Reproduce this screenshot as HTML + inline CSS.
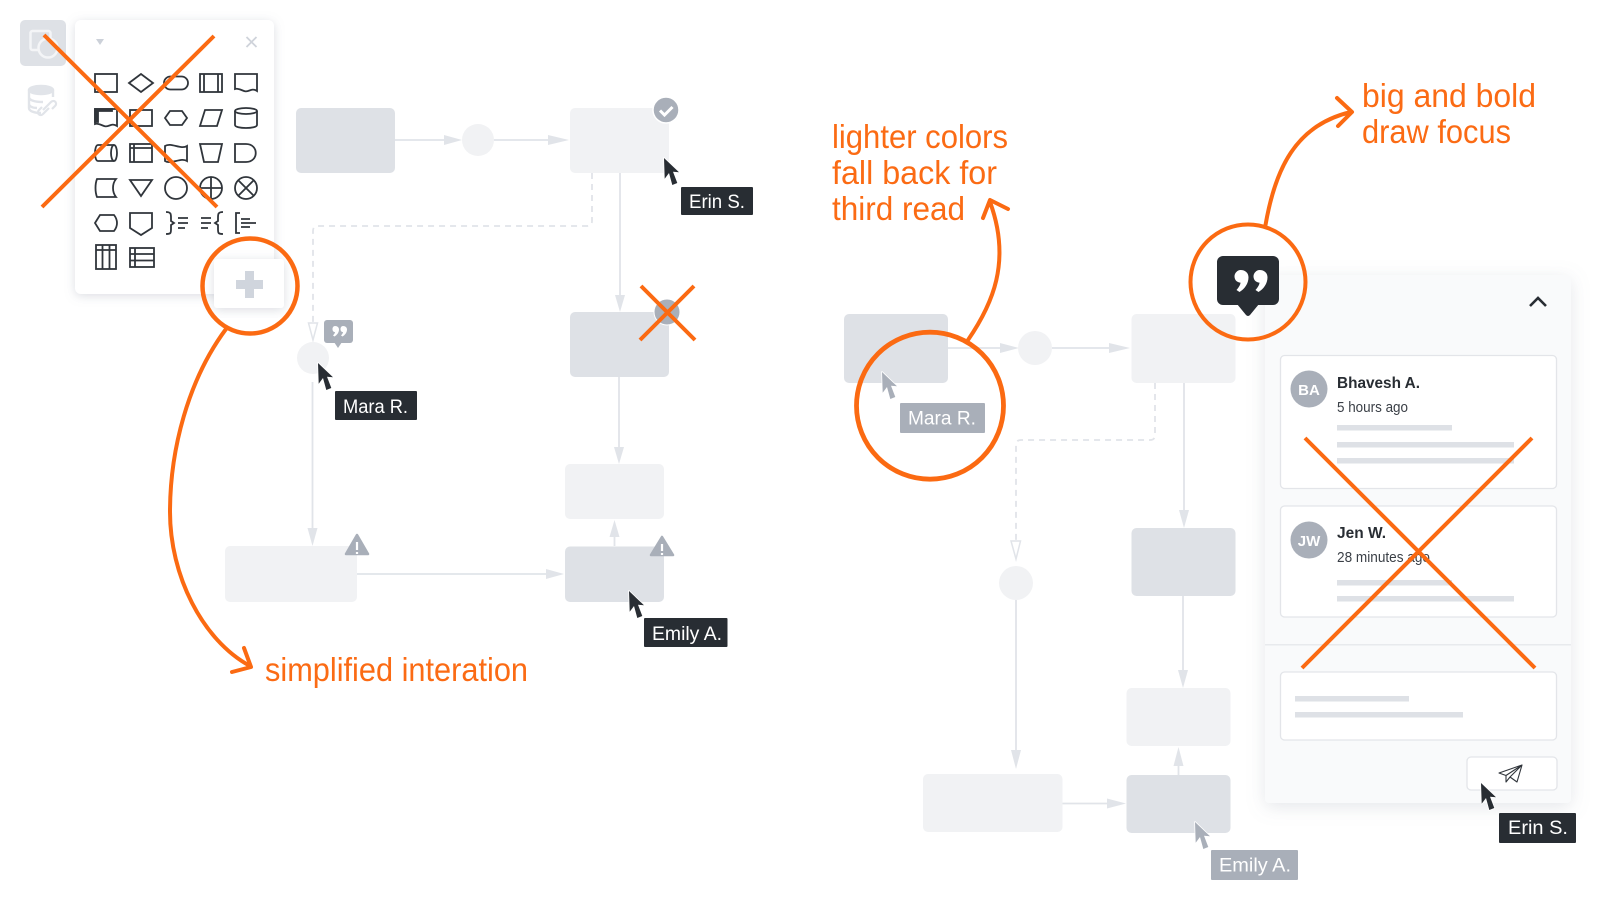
<!DOCTYPE html>
<html><head><meta charset="utf-8"><style>
html,body{margin:0;padding:0;background:#fff;width:1600px;height:900px;overflow:hidden}
svg{display:block}
.lab{font-family:"Liberation Sans",sans-serif;font-size:19px;fill:#fff}
.or{font-family:"Liberation Sans",sans-serif;font-size:33px;fill:#fb6b14}
.o{fill:none;stroke:#fb6a12;stroke-width:4;stroke-linecap:round;stroke-linejoin:round}
.x{fill:none;stroke:#fb6a12;stroke-width:4}
.c{fill:none;stroke:#e1e4e9;stroke-width:1.8}
.h{fill:#e1e4e9}
.s{fill:none;stroke:#30353b;stroke-width:1.8}
.n{font-family:"Liberation Sans",sans-serif;font-size:15.5px;font-weight:bold;fill:#282d33}
.t{font-family:"Liberation Sans",sans-serif;font-size:14.5px;fill:#3a3f46}
.av{font-family:"Liberation Sans",sans-serif;font-size:15px;font-weight:bold;fill:#fff;text-anchor:middle}
.cur{stroke:#fff;stroke-width:1.6;paint-order:stroke;stroke-linejoin:round}
</style></head><body>
<svg width="1600" height="900" viewBox="0 0 1600 900" xmlns="http://www.w3.org/2000/svg">
<defs>
<filter id="sh" x="-20%" y="-20%" width="140%" height="140%"><feDropShadow dx="0" dy="2" stdDeviation="5" flood-color="#8a93a3" flood-opacity=".3"/></filter>
<filter id="sh2" x="-20%" y="-20%" width="140%" height="140%"><feDropShadow dx="0" dy="4" stdDeviation="9" flood-color="#8a93a3" flood-opacity=".22"/></filter>
</defs>

<!-- top-left icons -->
<rect x="20" y="20" width="46" height="46" rx="5" fill="#dee1e6"/>
<rect x="30.500" y="31" width="20" height="19" rx="2" fill="none" stroke="#f4f5f7" stroke-width="2.500"/>
<circle cx="48" cy="48" r="9.500" fill="#dee1e6" stroke="#f4f5f7" stroke-width="2.500"/>
<g fill="none" stroke="#e1e4e9" stroke-width="2.400">
<ellipse cx="41" cy="90" rx="12" ry="4" fill="#e1e4e9"/>
<path d="M29 90v18c0 3 5 5 12 5M53 90v7M29 97c0 3 5 5 14 5M29 104c0 2 3 4 8 4"/>
<path d="M43 110l8-8c3-3 7 1 4 4l-3 3M49 108l-6 6c-3 3-7-1-4-4l3-3" stroke-width="2.200"/>
</g>

<!-- left diagram connectors -->
<path class="c" d="M395 140H446M494 140H550"/>
<path class="h" d="M444 135L462 140L444 145ZM548 135L569 140L548 145Z"/>
<path class="c" stroke-dasharray="6 5" d="M592 173V221Q592 226 587 226H318Q313 226 313 231V323"/>
<path d="M308.500 323H317.500L313 340Z" fill="#fff" stroke="#e1e4e9" stroke-width="1.500"/>
<path class="c" d="M620 173V296"/><path class="h" d="M615 295H625L620 312Z"/>
<path class="c" d="M619 377V448"/><path class="h" d="M614 447H624L619 464Z"/>
<path class="c" d="M312.500 382V530"/><path class="h" d="M307.500 528H317.500L312.500 546Z"/>
<path class="c" d="M357 574H548"/><path class="h" d="M546 569L564 574L546 579Z"/>
<path class="c" d="M614.500 546V536"/><path class="h" d="M609.500 537H619.500L614.500 520Z"/>

<!-- left diagram nodes -->
<rect x="296" y="108" width="99" height="65" rx="5" fill="#dee1e6"/>
<circle cx="478" cy="140" r="16" fill="#f1f2f4"/>
<rect x="570" y="108" width="99" height="65" rx="5" fill="#f1f2f4"/>
<rect x="570" y="312" width="99" height="65" rx="5" fill="#dee1e6"/>
<circle cx="313" cy="358" r="16" fill="#f1f2f4"/>
<rect x="225" y="546" width="132" height="56" rx="5" fill="#f1f2f4"/>
<rect x="565" y="464" width="99" height="55" rx="5" fill="#f1f2f4"/>
<rect x="565" y="546.500" width="99" height="55.500" rx="5" fill="#dee1e6"/>

<!-- badges -->
<circle cx="666" cy="110" r="13" fill="#a9afb9" stroke="#fff" stroke-width="1.500"/>
<path d="M660 110.500l4.500 4.500 8-8" fill="none" stroke="#fff" stroke-width="3"/>
<circle cx="667" cy="312" r="13" fill="#a9afb9" stroke="#fff" stroke-width="1"/>
<rect x="324" y="320" width="29" height="23" rx="3" fill="#a9afb9"/>
<path d="M334 342h8l-4 6z" fill="#a9afb9"/>
<g fill="#fff"><path transform="translate(331.500 326) scale(.5)" d="M7 0c5 0 8 3 8 7c0 6-4 11-9 14l-3-2c2-2 4-5 4-7c-3 0-5-2-5-6c0-3 2-6 5-6z"/><path transform="translate(339.500 326) scale(.5)" d="M7 0c5 0 8 3 8 7c0 6-4 11-9 14l-3-2c2-2 4-5 4-7c-3 0-5-2-5-6c0-3 2-6 5-6z"/></g>
<path d="M357 535L368 554H346Z" fill="#a9afb9" stroke="#a9afb9" stroke-width="2.500" stroke-linejoin="round"/>
<path d="M357 542v8M357 552v2" stroke="#fff" stroke-width="2.200"/>
<path d="M662 537L673 555H651Z" fill="#a9afb9" stroke="#a9afb9" stroke-width="2.500" stroke-linejoin="round"/>
<path d="M662 544v7M662 553v2" stroke="#fff" stroke-width="2.200"/>

<!-- palette -->
<rect x="75" y="20" width="199" height="274" rx="6" fill="#fff" filter="url(#sh)"/>
<path d="M96 39h8l-4 6z" fill="#ccd1d9"/>
<path d="M246.500 37l10 10M256.500 37l-10 10" stroke="#cfd3da" stroke-width="1.800" fill="none"/>
<g class="s">
<g transform="translate(106 83)"><rect x="-11" y="-9" width="22" height="18"/></g>
<g transform="translate(141 83)"><path d="M-12 0L0-9L12 0L0 9Z"/></g>
<g transform="translate(176 83)"><rect x="-12" y="-6.500" width="24" height="13" rx="6.500"/></g>
<g transform="translate(211 83)"><rect x="-11" y="-9" width="22" height="18"/><path d="M-7-9V9M7-9V9"/></g>
<g transform="translate(246 83)"><path d="M-11-9H11V8C5 4 3 10-2 8C-5 7-8 5-11 6Z"/></g>

<g transform="translate(106 118)"><path d="M-11-9H11V8C5 4 3 10-2 8C-5 7-8 5-11 6Z"/><path d="M-11-9H6V-7H-8V4H-11Z" fill="#30353b"/></g>
<g transform="translate(141 118)"><rect x="-11" y="-8" width="22" height="16"/></g>
<g transform="translate(176 118)"><path d="M-11 0L-6-7H6L11 0L6 7H-6Z"/></g>
<g transform="translate(211 118)"><path d="M-6-8H11L6 8H-11Z"/></g>
<g transform="translate(246 118)"><path d="M-11-7V7C-11 11 11 11 11 7V-7"/><ellipse cx="0" cy="-7" rx="11" ry="3"/></g>

<g transform="translate(106 153)"><path d="M8-8H-8C-12-8-12 8-8 8H8"/><ellipse cx="8" cy="0" rx="3" ry="8"/></g>
<g transform="translate(141 153)"><rect x="-11" y="-9" width="22" height="18"/><path d="M-7-9V9M-11-5H11"/></g>
<g transform="translate(176 153)"><path d="M-11-7C-5-11 5-3 11-7V8C5 4-5 12-11 8Z"/></g>
<g transform="translate(211 153)"><path d="M-11-9H11L7 9H-7Z"/></g>
<g transform="translate(246 153)"><path d="M-11-9H0C13-9 13 9 0 9H-11Z"/></g>

<g transform="translate(106 188)"><path d="M-9-9H10C6-4 6 4 10 9H-9C-11 4-11-4-9-9Z"/></g>
<g transform="translate(141 188)"><path d="M-11-8H11L0 8Z"/></g>
<g transform="translate(176 188)"><circle r="11"/></g>
<g transform="translate(211 188)"><circle r="11"/><path d="M-11 0H11M0-11V11"/></g>
<g transform="translate(246 188)"><circle r="11"/><path d="M-8-8L8 8M8-8L-8 8"/></g>

<g transform="translate(106 223)"><path d="M-11 0L-6-8H8C12-3 12 3 8 8H-6Z"/></g>
<g transform="translate(141 223)"><path d="M-11-10H11V5L0 12L-11 5Z"/></g>
<g transform="translate(176 223)"><path d="M-10-11C-5-11-5-9-5-5V-2L-2 0L-5 2V6C-5 10-5 11-10 11M2-5H12M2 0H12M2 5H9"/></g>
<g transform="translate(211 223)"><path d="M12-11C7-11 7-9 7-5V-2L4 0L7 2V6C7 10 7 11 12 11M-10-5H0M-10 0H0M-10 5H-3"/></g>
<g transform="translate(246 223)"><path d="M-6-10H-10V10H-6M-5-4H4M-5 0H10M-5 4H4"/></g>

<g transform="translate(106 257)"><rect x="-10" y="-12" width="20" height="24"/><path d="M-10-7H10M-3.500-12V12M3.500-12V12"/></g>
<g transform="translate(142 257)"><rect x="-12" y="-9" width="24" height="19"/><path d="M-12-3H12M-12 3.500H12M-7-9V10"/></g>
</g>
<path class="x" d="M44 35L217 207M214 36L42 207"/>
<rect x="214" y="259" width="70" height="49" rx="3" fill="#fff" filter="url(#sh)"/>
<path d="M245 271h9v9h9v9h-9v9h-9v-9h-9v-9h9z" fill="#d0d5dd"/>
<circle cx="250" cy="286" r="47.500" fill="none" stroke="#fb6a12" stroke-width="4.500"/>

<!-- left cursors + labels -->
<g fill="#282d33" class="cur">
<path transform="translate(664 158)" d="M0 0L.7 20.700L5 15L8.300 27L13.300 25L9 13.700L15 14.300Z"/>
<path transform="translate(318 363)" d="M0 0L.7 20.700L5 15L8.300 27L13.300 25L9 13.700L15 14.300Z"/>
<path transform="translate(629 591)" d="M0 0L.7 20.700L5 15L8.300 27L13.300 25L9 13.700L15 14.300Z"/>
</g>
<rect x="681" y="187" width="72" height="28" rx="1" fill="#282d33"/>
<text class="lab" x="689" y="208" textLength="56" lengthAdjust="spacingAndGlyphs">Erin S.</text>
<rect x="335" y="391" width="82" height="29" rx="1" fill="#282d33"/>
<text class="lab" x="343" y="413" textLength="65" lengthAdjust="spacingAndGlyphs">Mara R.</text>
<rect x="644" y="618" width="83.500" height="29" rx="1" fill="#282d33"/>
<text class="lab" x="652" y="640" textLength="70" lengthAdjust="spacingAndGlyphs">Emily A.</text>

<path class="x" d="M641 286L695 340M694 286L640 340"/>

<!-- orange left arrow + caption -->
<path class="o" d="M226 329C188 380 170 450 170 512C170 575 202 640 250 666M244 648L251 667L232 672"/>
<text class="or" x="265" y="681" textLength="263" lengthAdjust="spacingAndGlyphs">simplified interation</text>

<!-- right diagram connectors -->
<path class="c" d="M948 348H1002M1052 348H1112"/>
<path class="h" d="M1000 343L1019 348L1000 353ZM1109 343L1130 348L1109 353Z"/>
<path class="c" stroke-dasharray="6 5" d="M1155 383V435Q1155 440 1150 440H1021Q1016 440 1016 445V541"/>
<path d="M1011 541H1020.500L1016 559Z" fill="#fff" stroke="#e1e4e9" stroke-width="1.500"/>
<path class="c" d="M1184 383V512"/><path class="h" d="M1179 510H1189L1184 528Z"/>
<path class="c" d="M1183 596V672"/><path class="h" d="M1178 670H1188L1183 688Z"/>
<path class="c" d="M1016 599V752"/><path class="h" d="M1011 750H1021L1016 769Z"/>
<path class="c" d="M1062 803.500H1109"/><path class="h" d="M1107 798.500L1126 803.500L1107 808.500Z"/>
<path class="c" d="M1178.500 775V764"/><path class="h" d="M1173.500 766H1183.500L1178.500 747Z"/>

<!-- right diagram nodes -->
<rect x="844" y="314" width="104" height="69" rx="5" fill="#dee1e6"/>
<circle cx="1035" cy="348" r="17" fill="#f1f2f4"/>
<rect x="1131.500" y="314" width="104" height="69" rx="5" fill="#f1f2f4"/>
<circle cx="1016" cy="583" r="17" fill="#f1f2f4"/>
<rect x="1131.500" y="528" width="104" height="68" rx="5" fill="#dee1e6"/>
<rect x="923" y="774" width="139.500" height="58" rx="5" fill="#f1f2f4"/>
<rect x="1126.500" y="688" width="104" height="58" rx="5" fill="#f1f2f4"/>
<rect x="1126.500" y="775" width="104" height="58" rx="5" fill="#dee1e6"/>

<!-- right gray cursors + labels -->
<g fill="#a9afb9" class="cur">
<path transform="translate(882 372)" d="M0 0L.7 20.700L5 15L8.300 27L13.300 25L9 13.700L15 14.300Z"/>
<path transform="translate(1195 822)" d="M0 0L.7 20.700L5 15L8.300 27L13.300 25L9 13.700L15 14.300Z"/>
</g>
<rect x="900" y="403" width="85" height="30" rx="1" fill="#a9afb9"/>
<text class="lab" x="908" y="424.500" textLength="68" lengthAdjust="spacingAndGlyphs">Mara R.</text>
<rect x="1211" y="850" width="87" height="30" rx="1" fill="#a9afb9"/>
<text class="lab" x="1219" y="871.500" textLength="72" lengthAdjust="spacingAndGlyphs">Emily A.</text>

<!-- comment panel -->
<rect x="1265" y="275" width="306" height="528" rx="4" fill="#f9fafb" filter="url(#sh2)"/>
<path d="M1530 306L1538 298L1546 306" fill="none" stroke="#282d33" stroke-width="2.600"/>
<rect x="1280.500" y="355.500" width="276" height="133" rx="4" fill="#fff" stroke="#e3e5e9" stroke-width="1.300"/>
<circle cx="1309" cy="389" r="18.500" fill="#a9afb9"/>
<text class="av" x="1309" y="395">BA</text>
<text class="n" x="1337" y="388" textLength="83" lengthAdjust="spacingAndGlyphs">Bhavesh A.</text>
<text class="t" x="1337" y="412" textLength="71" lengthAdjust="spacingAndGlyphs">5 hours ago</text>
<rect x="1337" y="425" width="115" height="5.500" fill="#dee1e6"/>
<rect x="1337" y="442" width="177" height="5.500" fill="#dee1e6"/>
<rect x="1337" y="458" width="177" height="5.500" fill="#dee1e6"/>
<rect x="1280.500" y="506" width="276" height="111" rx="4" fill="#fff" stroke="#e3e5e9" stroke-width="1.300"/>
<circle cx="1309" cy="540" r="18.500" fill="#a9afb9"/>
<text class="av" x="1309" y="546">JW</text>
<text class="n" x="1337" y="538" textLength="49" lengthAdjust="spacingAndGlyphs">Jen W.</text>
<text class="t" x="1337" y="562" textLength="93" lengthAdjust="spacingAndGlyphs">28 minutes ago</text>
<rect x="1337" y="580" width="115" height="5.500" fill="#dee1e6"/>
<rect x="1337" y="596" width="177" height="5.500" fill="#dee1e6"/>
<rect x="1265" y="644" width="306" height="1.500" fill="#e8eaed"/>
<rect x="1280.500" y="672" width="276" height="68" rx="4" fill="#fff" stroke="#e3e5e9" stroke-width="1.300"/>
<rect x="1295" y="696" width="114" height="5.500" fill="#dee1e6"/>
<rect x="1295" y="712" width="168" height="5.500" fill="#dee1e6"/>
<rect x="1467" y="757" width="90" height="33" rx="4" fill="#fff" stroke="#e3e5e9" stroke-width="1.300"/>
<path d="M1499 773L1522 765L1517 782L1510 777L1506 782V775.500ZM1506 775.500L1522 765M1510 777L1522 765" fill="none" stroke="#30353b" stroke-width="1.100" stroke-linejoin="round"/>
<path class="x" d="M1305 438L1535 668M1532 438L1302 668"/>

<!-- comment icon and circle -->
<rect x="1217" y="256" width="62" height="49" rx="6" fill="#282d33"/>
<path d="M1237 304H1259L1250 315Q1248 317 1246 315Z" fill="#282d33"/>
<g fill="#fff">
<path transform="translate(1233.500 270) scale(1 1.050)" d="M7 0c5 0 8 3 8 7c0 6-4 11-9 14l-3-2c2-2 4-5 4-7c-3 0-6-2-6-6c0-3 3-6 6-6z"/>
<path transform="translate(1252.500 270) scale(1 1.050)" d="M7 0c5 0 8 3 8 7c0 6-4 11-9 14l-3-2c2-2 4-5 4-7c-3 0-6-2-6-6c0-3 3-6 6-6z"/>
</g>
<circle cx="1248" cy="282" r="57.500" fill="none" stroke="#fb6a12" stroke-width="4"/>

<!-- right cursor + label -->
<path fill="#282d33" class="cur" transform="translate(1481 783)" d="M0 0L.7 20.700L5 15L8.300 27L13.300 25L9 13.700L15 14.300Z"/>
<rect x="1499" y="813" width="77" height="30" rx="1" fill="#282d33"/>
<text class="lab" x="1508" y="834" textLength="60" lengthAdjust="spacingAndGlyphs">Erin S.</text>

<!-- orange annotations right -->
<circle cx="930" cy="405.700" r="73.500" fill="none" stroke="#fb6a12" stroke-width="4.800"/>
<path class="o" d="M968 340C992 305 1012 262 990 202M983 218L990 200L1008 209"/>
<path class="o" d="M1265.500 225C1275 170 1295 125 1351 112M1337 98L1352 112L1338 126"/>
<text class="or" x="832" y="148" textLength="176" lengthAdjust="spacingAndGlyphs">lighter colors</text>
<text class="or" x="832" y="184" textLength="165" lengthAdjust="spacingAndGlyphs">fall back for</text>
<text class="or" x="832" y="220" textLength="133" lengthAdjust="spacingAndGlyphs">third read</text>
<text class="or" x="1362" y="107" textLength="174" lengthAdjust="spacingAndGlyphs">big and bold</text>
<text class="or" x="1362" y="143" textLength="149" lengthAdjust="spacingAndGlyphs">draw focus</text>
</svg>
</body></html>
